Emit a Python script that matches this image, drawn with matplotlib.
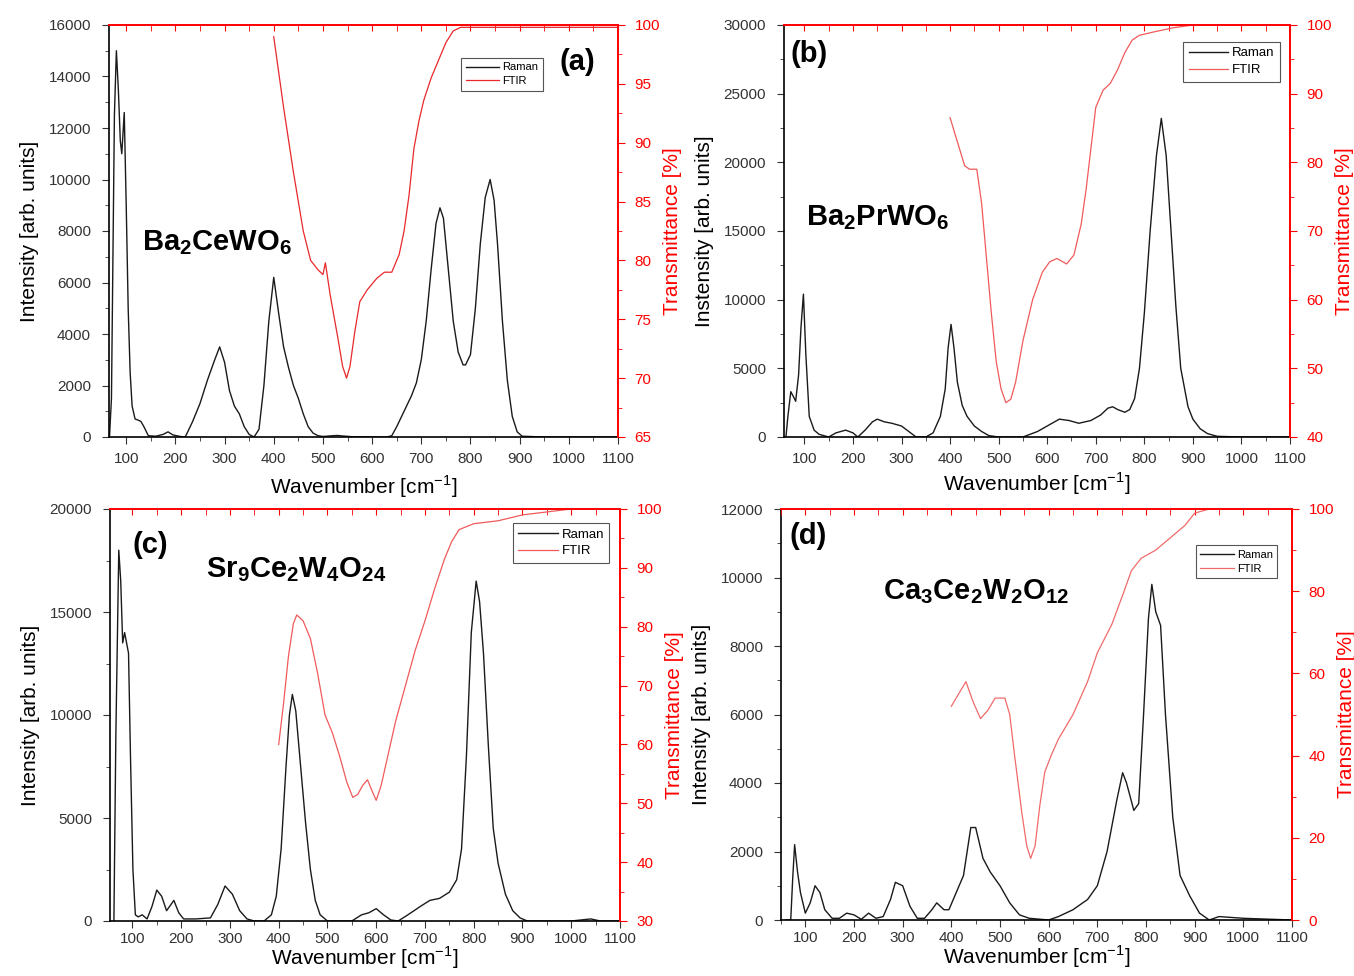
import matplotlib
matplotlib.use("Agg")
import matplotlib.pyplot as plt
from matplotlib.ticker import MultipleLocator

plt.rcParams["font.family"] = ["Liberation Sans", "DejaVu Sans"]
plt.rcParams["mathtext.fontset"] = "custom"
plt.rcParams["mathtext.rm"] = "Liberation Sans"
plt.rcParams["mathtext.bf"] = "Liberation Sans:bold"

# ---- (a) Ba2CeWO6 ----
raman_a_x = [66, 70, 73, 76, 80, 84, 88, 91, 96, 100, 104, 108, 112, 118, 125, 130, 136, 145, 160, 175,
             185, 195, 210, 220, 235, 250, 265, 280, 290, 300, 310, 320, 330, 340, 350, 360, 370, 380,
             390, 400, 410, 420, 430, 440, 450, 460, 470, 480, 490, 500, 520, 530, 540, 560, 600, 630,
             640, 650, 660, 670, 680, 690, 700, 710, 720, 730, 738, 745, 755, 765, 775, 785, 790, 800,
             810, 820, 830, 840, 848, 855, 865, 875, 885, 895, 905, 950, 1000, 1050, 1100]
raman_a_y = [0, 1500, 7000, 12500, 15000, 13500, 11500, 11000, 12600, 9000, 5000, 2500, 1200, 700, 650,
             600, 400, 50, 30, 100, 200, 80, 20, 0, 600, 1300, 2200, 3000, 3500, 2900, 1800, 1200, 900,
             400, 100, 0, 300, 2000, 4500, 6200, 4800, 3500, 2700, 2000, 1500, 900, 400, 150, 50, 20, 50,
             60, 40, 10, 0, 0, 50, 400, 800, 1200, 1600, 2100, 3000, 4500, 6500, 8300, 8900, 8500, 6500,
             4500, 3300, 2800, 2800, 3200, 5000, 7500, 9300, 10000, 9200, 7500, 4500, 2200, 800, 200,
             30, 0, 0, 0, 0]
ftir_a_x = [400, 420, 440, 460, 475, 490, 500, 505, 515, 530, 540, 548, 555, 565, 575, 590, 610, 625,
            640, 655, 665, 675, 685, 695, 705, 720, 735, 750, 765, 780, 850, 950, 1100]
ftir_a_y = [99.0, 93.0, 87.5, 82.5, 80.0, 79.2, 78.8, 79.8, 77.0, 73.5, 71.0, 70.0, 71.0, 74.0, 76.5,
            77.5, 78.5, 79.0, 79.0, 80.5, 82.5, 85.5, 89.5, 91.8, 93.6, 95.5, 97.0, 98.5, 99.5, 99.8,
            99.8, 99.8, 99.8]

# ---- (b) Ba2PrWO6 ----
raman_b_x = [62, 66, 72, 78, 82, 88, 93, 98, 103, 110, 120, 130, 140, 150, 165, 185, 200, 210, 225, 240,
             250, 265, 280, 300, 315, 330, 350, 365, 380, 390, 396, 402, 408, 415, 425, 435, 450, 465,
             480, 500, 550, 580, 600, 625, 645, 665, 690, 710, 725, 735, 745, 760, 770, 780, 790, 800,
             812, 825, 835, 845, 855, 865, 875, 890, 900, 915, 930, 950, 1000, 1100]
raman_b_y = [0, 1500, 3300, 2900, 2600, 4500, 8000, 10400, 6000, 1500, 500, 200, 100, 0, 300, 500, 300,
             0, 500, 1100, 1300, 1100, 1000, 800, 400, 0, 0, 300, 1500, 3500, 6500, 8200, 6500, 4000,
             2300, 1500, 800, 400, 100, 0, 0, 400, 800, 1300, 1200, 1000, 1200, 1600, 2100, 2200, 2000,
             1800, 2000, 2800, 5000, 9000, 15000, 20500, 23200, 20500, 15000, 9500, 5000, 2200, 1300,
             600, 250, 50, 0, 0]
ftir_b_x = [400, 415, 430, 440, 455, 465, 475, 485, 495, 505, 515, 525, 535, 550, 570, 590, 605, 620,
            640, 655, 670, 680, 690, 700, 715, 730, 745, 760, 775, 790, 820, 860, 900, 1100]
ftir_b_y = [86.5, 83.0, 79.5, 79.0, 79.0, 74.0, 66.0, 58.0, 51.0, 47.0, 45.0, 45.5, 48.0, 54.0, 60.0,
            64.0, 65.5, 66.0, 65.2, 66.5, 71.0, 76.0, 82.0, 88.0, 90.5, 91.5, 93.5, 96.0, 97.8, 98.5,
            99.0, 99.6, 100.0, 100.0]

# ---- (c) Sr9Ce2W4O24 ----
raman_c_x = [62, 66, 72, 76, 80, 84, 88, 92, 96, 101, 106, 112, 120, 130, 140, 150, 160, 170, 185, 195,
             205, 230, 260, 275, 290, 305, 320, 335, 350, 370, 385, 395, 405, 415, 422, 428, 435, 445,
             455, 465, 475, 485, 500, 550, 570, 585, 600, 615, 630, 645, 665, 690, 710, 730, 750, 765,
             775, 785, 795, 805, 812, 820, 830, 840, 850, 865, 880, 895, 910, 1000, 1040, 1060, 1100]
raman_c_y = [0, 9000, 18000, 16500, 13500, 14000, 13500, 13000, 8000, 2500, 300, 200, 300, 100, 700,
             1500, 1200, 500, 1000, 400, 100, 100, 150, 800, 1700, 1300, 500, 100, 0, 0, 300, 1200, 3500,
             7500, 10000, 11000, 10200, 7500, 4800, 2500, 1000, 300, 0, 0, 300, 400, 600, 300, 50, 0,
             300, 700, 1000, 1100, 1400, 2000, 3500, 8000, 14000, 16500, 15500, 13000, 8500, 4500, 2800,
             1300, 500, 150, 0, 0, 100, 0, 0]
ftir_c_x = [400, 410, 420, 430, 437, 450, 465, 480, 495, 510, 525, 540, 552, 562, 572, 582, 592, 600,
            610, 625, 640, 660, 680, 700, 720, 740, 755, 770, 800, 850, 900, 950, 1000, 1100]
ftir_c_y = [60.0, 67.0, 75.0, 80.5, 82.0, 81.0, 78.0, 72.0, 65.0, 62.0, 58.0, 53.5, 51.0, 51.5, 53.0,
            54.0, 52.0, 50.5, 53.0, 58.5, 64.0, 70.0, 76.0, 81.0, 86.5, 91.5, 94.5, 96.5, 97.5, 98.0,
            99.0, 99.5, 100.0, 100.0]

# ---- (d) Ca3Ce2W2O12 ----
raman_d_x = [60, 70, 74, 78, 84, 90, 100, 110, 120, 130, 140, 155, 170, 185, 200, 215, 230, 245, 260,
             275, 285, 300, 315, 330, 345, 360, 370, 385, 395, 410, 425, 440, 450, 465, 480, 500, 520,
             540, 560, 600, 620, 650, 680, 700, 720, 740, 752, 760, 775, 785, 795, 805, 812, 820, 830,
             840, 855, 870, 890, 910, 930, 950, 1000, 1100]
raman_d_y = [0, 0, 1200, 2200, 1400, 800, 200, 500, 1000, 800, 300, 50, 50, 200, 150, 20, 200, 50, 100,
             600, 1100, 1000, 400, 50, 50, 300, 500, 300, 300, 800, 1300, 2700, 2700, 1800, 1400, 1000,
             500, 150, 50, 0, 100, 300, 600, 1000, 2000, 3500, 4300, 4000, 3200, 3400, 6000, 8800,
             9800, 9000, 8600, 6000, 3000, 1300, 700, 200, 0, 100, 50, 0]
ftir_d_x = [400, 415, 430, 445, 460, 475, 490, 510, 520, 530, 545, 555, 563, 572, 582, 592, 605, 620,
            650, 680, 700, 730, 755, 770, 790, 820, 850, 880, 900, 930, 1000]
ftir_d_y = [52.0, 55.0, 58.0, 53.0, 49.0, 51.0, 54.0, 54.0, 50.0, 40.0, 26.0, 18.0, 15.0, 18.0, 28.0,
            36.0, 40.0, 44.0, 50.0, 58.0, 65.0, 72.0, 80.0, 85.0, 88.0, 90.0, 93.0, 96.0, 99.0, 100.0,
            100.0]

panels = [
    dict(rx=raman_a_x, ry=raman_a_y, fx=ftir_a_x, fy=ftir_a_y, xlim=(65, 1100),
         ylim=(0, 16000), ystep=2000, tlim=(65, 100), tstep=5,
         rect=(109, 25, 618, 437), tag="(a)", tag_xy=(0.885, 0.91),
         name=r"$\mathbf{Ba_2CeWO_6}$", name_xy=(0.065, 0.473),
         leg_xy=(0.692, 0.92), leg_fs=8, ylabel="Intensity [arb. units]", red="#e8282b",
         xpad=6, xlabelpad=5),
    dict(rx=raman_b_x, ry=raman_b_y, fx=ftir_b_x, fy=ftir_b_y, xlim=(58, 1100),
         ylim=(0, 30000), ystep=5000, tlim=(40, 100), tstep=10,
         rect=(784, 25, 1290, 437), tag="(b)", tag_xy=(0.012, 0.93),
         name=r"$\mathbf{Ba_2PrWO_6}$", name_xy=(0.043, 0.532),
         leg_xy=(0.789, 0.959), leg_fs=9.5, ylabel="Instensity [arb. units]", red="#f05a5a",
         xpad=6, xlabelpad=3),
    dict(rx=raman_c_x, ry=raman_c_y, fx=ftir_c_x, fy=ftir_c_y, xlim=(54, 1100),
         ylim=(0, 20000), ystep=5000, tlim=(30, 100), tstep=10,
         rect=(110, 509, 620, 921), tag="(c)", tag_xy=(0.045, 0.913),
         name=r"$\mathbf{Sr_9Ce_2W_4O_{24}}$", name_xy=(0.188, 0.852),
         leg_xy=(0.79, 0.966), leg_fs=9.5, ylabel="Intensity [arb. units]", red="#f05a5a",
         xpad=3, xlabelpad=-1),
    dict(rx=raman_d_x, ry=raman_d_y, fx=ftir_d_x, fy=ftir_d_y, xlim=(50, 1100),
         ylim=(0, 12000), ystep=2000, tlim=(0, 100), tstep=20,
         rect=(781, 509, 1292, 920), tag="(d)", tag_xy=(0.017, 0.935),
         name=r"$\mathbf{Ca_3Ce_2W_2O_{12}}$", name_xy=(0.2, 0.80),
         leg_xy=(0.812, 0.912), leg_fs=8, ylabel="Intensity [arb. units]", red="#f06a6a",
         xpad=3, xlabelpad=-1),
]

W, H = 1354, 976
fig = plt.figure(figsize=(W / 100, H / 100), dpi=100)

for p in panels:
    x0, y0, x1, y1 = p["rect"]
    ax = fig.add_axes([x0 / W, 1 - y1 / H, (x1 - x0) / W, (y1 - y0) / H])
    ax2 = ax.twinx()

    l1, = ax.plot(p["rx"], p["ry"], color="#1a1a1a", lw=1.0, label="Raman")
    l2, = ax2.plot(p["fx"], p["fy"], color=p["red"], lw=0.9, label="FTIR")

    ax.set_xlim(*p["xlim"])
    ax.set_ylim(*p["ylim"])
    ax2.set_ylim(*p["tlim"])

    ax.xaxis.set_minor_locator(MultipleLocator(50))
    ax.yaxis.set_major_locator(MultipleLocator(p["ystep"]))
    ax.yaxis.set_minor_locator(MultipleLocator(p["ystep"] / 2))
    ax2.yaxis.set_major_locator(MultipleLocator(p["tstep"]))
    ax2.yaxis.set_minor_locator(MultipleLocator(p["tstep"] / 2))
    ax.set_xticks(range(100, 1101, 100))

    ax.tick_params(which="both", direction="out", labelsize=11, colors="#333333")
    ax.tick_params(which="major", length=5)
    ax.tick_params(which="minor", length=3)
    ax.tick_params(axis="y", pad=8)
    ax.tick_params(axis="x", pad=p["xpad"])
    ax2.tick_params(axis="y", which="both", direction="out", colors="red", labelsize=11, pad=7)
    ax2.tick_params(axis="y", which="major", length=5)
    ax2.tick_params(axis="y", which="minor", length=3)

    # red top ticks pointing inward
    ax2.xaxis.set_visible(True)
    ax2.xaxis.set_ticks_position("top")
    ax2.tick_params(axis="x", which="both", direction="in", colors="red", labeltop=False,
                    length=4)

    ax.spines["top"].set_visible(False)
    ax.spines["right"].set_visible(False)
    ax2.spines["left"].set_visible(False)
    ax2.spines["bottom"].set_visible(False)
    for s in ("top", "right"):
        ax2.spines[s].set_color("red")
        ax2.spines[s].set_linewidth(1.4)
    ax.spines["left"].set_linewidth(1.2)
    ax.spines["bottom"].set_linewidth(1.2)

    ax.set_xlabel("Wavenumber [cm$^{-1}$]", fontsize=15, labelpad=p["xlabelpad"])
    ax.set_ylabel(p["ylabel"], fontsize=15, labelpad=7)
    ax2.set_ylabel("Transmittance [%]", fontsize=15, color="red", labelpad=2)

    ax.text(*p["tag_xy"], p["tag"], transform=ax.transAxes, fontsize=21,
            fontweight="bold", va="center", ha="left")
    ax.text(*p["name_xy"], p["name"], transform=ax.transAxes, fontsize=21,
            va="center", ha="left")

    leg = ax2.legend([l1, l2], ["Raman", "FTIR"], loc="upper left",
                     bbox_to_anchor=p["leg_xy"], borderaxespad=0, fontsize=p["leg_fs"],
                     frameon=True, fancybox=False, framealpha=1, edgecolor="#555555",
                     handlelength=3.0, handletextpad=0.3, borderpad=0.4,
                     labelspacing=0.35)
    leg.get_frame().set_linewidth(0.8)

fig.savefig("out.png", dpi=100)
